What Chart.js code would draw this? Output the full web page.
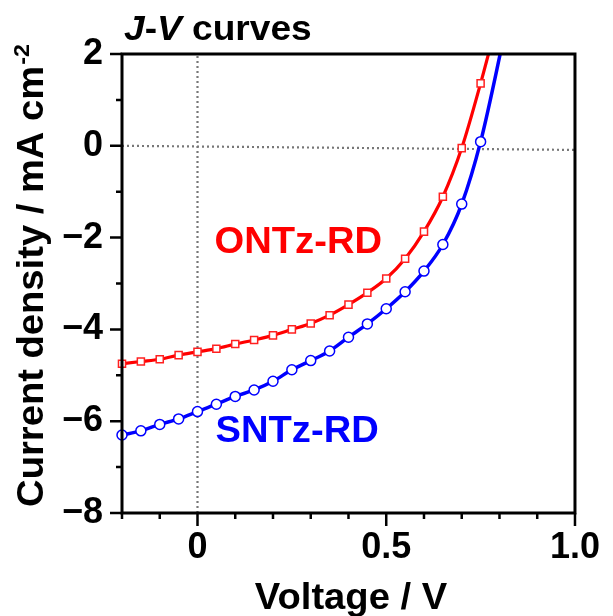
<!DOCTYPE html>
<html>
<head>
<meta charset="utf-8">
<script src="https://cdn.jsdelivr.net/npm/chart.js@4/dist/chart.umd.min.js"></script>
<style>
  html, body { margin: 0; padding: 0; background: #fff; }
  #wrap { width: 613px; height: 616px; }
</style>
</head>
<body>
<div id="wrap"><canvas id="c" width="613" height="616"></canvas></div>
<script>
// ---- Data ----
const voltage = [-0.2, -0.15, -0.1, -0.05, 0, 0.05, 0.1, 0.15, 0.2, 0.25, 0.3, 0.35, 0.4, 0.45, 0.5, 0.55, 0.6, 0.65, 0.7, 0.75];
const ontzJ = [-4.75, -4.70, -4.65, -4.56, -4.49, -4.42, -4.32, -4.23, -4.13, -4.00, -3.87, -3.69, -3.46, -3.20, -2.89, -2.46, -1.87, -1.11, -0.05, 1.36];
const sntzJ = [-6.30, -6.21, -6.07, -5.95, -5.79, -5.63, -5.46, -5.32, -5.13, -4.88, -4.68, -4.47, -4.17, -3.88, -3.55, -3.18, -2.73, -2.15, -1.27, 0.09];
// fitted-curve continuation beyond the last measured marker (leaves the top of the plot)
const ontzTailV = [0.79];
const ontzTailJ = [2.6];
const sntzTailV = [0.815];
const sntzTailJ = [2.5];
// dotted guide lines
const zeroLineV = [-0.2, 1.0];
const zeroLineJ = [0, -0.09];
const vZeroLineV = [0, 0];
const vZeroLineJ = [-8, 2];
// axes
const xMin = -0.2, xMax = 1.0, xStep = 0.1;
const yMin = -8, yMax = 2, yStep = 1;
const xMajorLabels = [0, 0.5, 1.0];
const xLabelText = ['0', '0.5', '1.0'];
const seriesNames = ['ONTz-RD', 'SNTz-RD'];

const toPts = (xs, ys) => xs.map((x, i) => ({ x: x, y: ys[i] }));
const ontzPts = toPts(voltage.concat(ontzTailV), ontzJ.concat(ontzTailJ));
const sntzPts = toPts(voltage.concat(sntzTailV), sntzJ.concat(sntzTailJ));
const nMarkers = voltage.length;

const FONT = '"Liberation Sans", Arial, Helvetica, sans-serif';
const STRETCH = 1.06;

// draw text stretched horizontally (reference glyphs are slightly wide)
function wideText(ctx, text, x, y, align) {
  const w = ctx.measureText(text).width * STRETCH;
  let left = x;
  if (align === 'center') left = x - w / 2;
  else if (align === 'right') left = x - w;
  ctx.save();
  ctx.translate(left, y);
  ctx.scale(STRETCH, 1);
  ctx.textAlign = 'left';
  ctx.fillText(text, 0, 0);
  ctx.restore();
  return w;
}

const decor = {
  id: 'decor',
  afterDraw(chart) {
    const ctx = chart.ctx;
    const a = chart.chartArea;
    const xs = chart.scales.x, ys = chart.scales.y;
    ctx.save();
    // frame
    ctx.strokeStyle = '#000';
    ctx.lineWidth = 3;
    ctx.strokeRect(a.left, a.top, a.right - a.left, a.bottom - a.top);
    // ticks
    ctx.lineWidth = 2.5;
    ctx.beginPath();
    for (let v = yMin; v <= yMax + 1e-9; v += yStep) {
      const py = ys.getPixelForValue(v);
      const len = (Math.round(v) % 2 === 0) ? 12 : 6;
      ctx.moveTo(a.left - len, py);
      ctx.lineTo(a.left, py);
    }
    for (let k = 0; k <= Math.round((xMax - xMin) / xStep); k++) {
      const v = xMin + k * xStep;
      const px = xs.getPixelForValue(v);
      const major = xMajorLabels.some(m => Math.abs(m - v) < 1e-6);
      const len = major ? 13 : 6;
      ctx.moveTo(px, a.bottom);
      ctx.lineTo(px, a.bottom + len);
    }
    ctx.stroke();

    // chart title: "J-V curves"
    ctx.fillStyle = '#000';
    ctx.textBaseline = 'alphabetic';
    let tx = 124;
    const ty = 40;
    const parts = [['J', true], ['-', false], ['V', true], [' curves', false]];
    for (const [t, it] of parts) {
      ctx.font = (it ? 'italic ' : '') + 'bold 35px ' + FONT;
      tx += wideText(ctx, t, tx, ty, 'left');
    }

    // x-axis title
    ctx.font = 'bold 36px ' + FONT;
    wideText(ctx, 'Voltage / V', 351, 609, 'center');

    // y-axis title with superscript
    ctx.save();
    ctx.translate(43, 276);
    ctx.rotate(-Math.PI / 2);
    const main = 'Current density / mA cm';
    const sup = '-2';
    ctx.font = 'bold 36px ' + FONT;
    const wMain = ctx.measureText(main).width * STRETCH;
    ctx.font = 'bold 22px ' + FONT;
    const wSup = ctx.measureText(sup).width * STRETCH;
    const start = -(wMain + wSup) / 2;
    ctx.font = 'bold 36px ' + FONT;
    wideText(ctx, main, start, 0, 'left');
    ctx.font = 'bold 22px ' + FONT;
    wideText(ctx, sup, start + wMain + 1, -14, 'left');
    ctx.restore();

    // series labels
    ctx.font = 'bold 36px ' + FONT;
    ctx.textBaseline = 'middle';
    ctx.fillStyle = '#ff0000';
    wideText(ctx, seriesNames[0], xs.getPixelForValue(0.267), ys.getPixelForValue(-2.12), 'center');
    ctx.fillStyle = '#0000ff';
    wideText(ctx, seriesNames[1], xs.getPixelForValue(0.264), ys.getPixelForValue(-6.24), 'center');
    ctx.restore();
  }
};

const markerRadius = (ctx) => ctx.dataIndex < nMarkers ? 5 : 0;

new Chart(document.getElementById('c'), {
  type: 'scatter',
  data: {
    datasets: [
      {
        label: seriesNames[0],
        data: ontzPts,
        showLine: true,
        borderColor: '#ff0000',
        borderWidth: 3.2,
        cubicInterpolationMode: 'monotone',
        pointStyle: 'rect',
        pointRadius: markerRadius,
        pointHoverRadius: markerRadius,
        pointBackgroundColor: '#ffffff',
        pointBorderColor: '#ff2020',
        pointBorderWidth: 1.5,
        clip: { left: 8, top: 0, right: 0, bottom: 0 },
        order: 2
      },
      {
        label: seriesNames[1],
        data: sntzPts,
        showLine: true,
        borderColor: '#0000ff',
        borderWidth: 3.5,
        cubicInterpolationMode: 'monotone',
        pointStyle: 'circle',
        pointRadius: markerRadius,
        pointHoverRadius: markerRadius,
        pointBackgroundColor: '#ffffff',
        pointBorderColor: '#0000ff',
        pointBorderWidth: 1.5,
        clip: { left: 8, top: 0, right: 0, bottom: 0 },
        order: 1
      },
      {
        label: 'J = 0',
        data: toPts(zeroLineV, zeroLineJ),
        showLine: true,
        borderColor: '#777777',
        borderWidth: 2.2,
        borderDash: [2, 3],
        pointRadius: 0,
        order: 10
      },
      {
        label: 'V = 0',
        data: toPts(vZeroLineV, vZeroLineJ),
        showLine: true,
        borderColor: '#777777',
        borderWidth: 2.2,
        borderDash: [2, 3],
        pointRadius: 0,
        order: 11
      }
    ]
  },
  options: {
    responsive: false,
    animation: false,
    devicePixelRatio: 1,
    layout: { padding: { left: 0, right: 33, top: 54, bottom: 0 } },
    plugins: { legend: { display: false }, tooltip: { enabled: false }, title: { display: false } },
    events: [],
    scales: {
      x: {
        type: 'linear',
        min: xMin, max: xMax,
        grid: { display: false, drawTicks: false },
        border: { display: false },
        ticks: {
          stepSize: xStep,
          autoSkip: false,
          maxRotation: 0,
          padding: 13,
          color: '#000',
          font: { family: FONT, size: 36, weight: 'bold' },
          callback: (v) => {
            const i = xMajorLabels.findIndex(m => Math.abs(m - v) < 1e-6);
            return i >= 0 ? xLabelText[i] : '';
          }
        },
        afterFit: (s) => { s.height = 103; }
      },
      y: {
        type: 'linear',
        min: yMin, max: yMax,
        grid: { display: false, drawTicks: false },
        border: { display: false },
        ticks: {
          stepSize: yStep,
          autoSkip: false,
          padding: 19,
          color: '#000',
          font: { family: FONT, size: 36, weight: 'bold' },
          callback: (v) => {
            const r = Math.round(v);
            if (r % 2 !== 0) return '';
            return r < 0 ? '\u2212' + Math.abs(r) : String(r);
          }
        },
        afterFit: (s) => { s.width = 122; }
      }
    }
  },
  plugins: [decor]
});
</script>
</body>
</html>
